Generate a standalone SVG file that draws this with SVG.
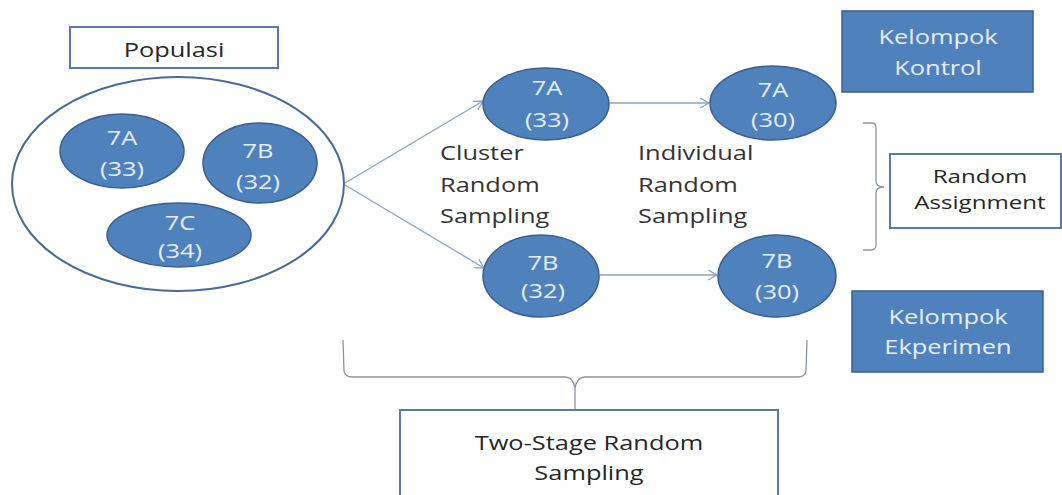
<svg xmlns="http://www.w3.org/2000/svg" width="1062" height="495" viewBox="0 0 1062 495">
<style>
  .t { font-family: "Open Sans", "Liberation Sans", sans-serif; font-size: 20px; text-anchor: middle; transform-box: fill-box; transform-origin: center; transform: scaleX(1.27); }
  .lbl { font-family: "Open Sans", "Liberation Sans", sans-serif; font-size: 20px; fill: #333333; transform-box: fill-box; transform-origin: left center; transform: scaleX(1.27); }
  .sm { font-size: 19px; }
  .dark { fill: #262626; }
  .light { fill: #e6eef8; }
  .ell { fill: #4f81bd; stroke: #3a5f8e; stroke-width: 1.5; }
  .bluebox { fill: #4f81bd; stroke: #3a5f8e; stroke-width: 1.5; }
  .whitebox { fill: #ffffff; stroke: #5a79a6; stroke-width: 2; }
  .conn { fill: none; stroke: #8ea2c4; stroke-width: 1.3; }
  .brace { fill: none; stroke: #8c93a3; stroke-width: 1.3; }
</style>
<defs>
  <marker id="arr" markerWidth="12" markerHeight="12" refX="10" refY="6" orient="auto" markerUnits="userSpaceOnUse">
    <path d="M1,1 L10,6 L1,11" fill="none" stroke="#8ea2c4" stroke-width="1.3"/>
  </marker>
</defs>
<rect width="1062" height="495" fill="#ffffff"/>

<g id="connectors">
  <line class="conn" x1="345" y1="183" x2="483" y2="101" marker-end="url(#arr)"/>
  <line class="conn" x1="345" y1="185" x2="484" y2="268" marker-end="url(#arr)"/>
  <line class="conn" x1="609" y1="103" x2="709" y2="103" marker-end="url(#arr)"/>
  <line class="conn" x1="600" y1="275" x2="717" y2="275" marker-end="url(#arr)"/>
  <path class="brace" d="M863,123 L872,123 Q876,123 876,128 L876,181 Q876,187 884,187 Q876,187 876,193 L876,245 Q876,250 871,250 L863,250"/>
  <path class="brace" d="M343,340 L344,371 Q345,377 352,377 L565,377 Q573,377 575,388 L575,410 M575,388 Q577,377 585,377 L798,377 Q805,377 806,371 L807,340"/>
</g>

<g id="populasi-label">
  <rect class="whitebox" x="70" y="27" width="208" height="41"/>
  <text class="t dark" x="174" y="57">Populasi</text>
</g>

<g id="populasi">
  <ellipse cx="178" cy="184" rx="166" ry="107" fill="#ffffff" stroke="#4a6a96" stroke-width="2"/>
</g>

<g id="p7A">
  <ellipse class="ell" cx="122" cy="151" rx="62" ry="37"/>
  <text class="t light" x="122" y="145">7A</text>
  <text class="t light" x="122" y="176">(33)</text>
</g>
<g id="p7B">
  <ellipse class="ell" cx="260" cy="163" rx="57" ry="40"/>
  <text class="t light" x="258" y="158">7B</text>
  <text class="t light" x="258" y="189">(32)</text>
</g>
<g id="p7C">
  <ellipse class="ell" cx="179" cy="235" rx="72" ry="32"/>
  <text class="t light" x="180" y="230">7C</text>
  <text class="t light" x="180" y="258">(34)</text>
</g>

<g id="c7A">
  <ellipse class="ell" cx="546" cy="104" rx="63" ry="36"/>
  <text class="t light" x="547" y="95">7A</text>
  <text class="t light" x="547" y="127">(33)</text>
</g>
<g id="c7B">
  <ellipse class="ell" cx="541" cy="276" rx="58" ry="41"/>
  <text class="t light" x="543" y="270">7B</text>
  <text class="t light" x="543" y="298">(32)</text>
</g>
<g id="i7A">
  <ellipse class="ell" cx="773" cy="103" rx="63" ry="37"/>
  <text class="t light" x="773" y="97">7A</text>
  <text class="t light" x="773" y="127">(30)</text>
</g>
<g id="i7B">
  <ellipse class="ell" cx="777" cy="276" rx="59" ry="41"/>
  <text class="t light" x="777" y="268">7B</text>
  <text class="t light" x="777" y="299">(30)</text>
</g>

<g id="cluster-label">
  <text class="lbl" x="440" y="160">Cluster</text>
  <text class="lbl" x="440" y="192">Random</text>
  <text class="lbl" x="440" y="223">Sampling</text>
</g>
<g id="individual-label">
  <text class="lbl" x="638" y="160">Individual</text>
  <text class="lbl" x="638" y="192">Random</text>
  <text class="lbl" x="638" y="223">Sampling</text>
</g>

<g id="kontrol">
  <rect class="bluebox" x="842" y="11" width="191" height="81"/>
  <text class="t light" x="938" y="44">Kelompok</text>
  <text class="t light" x="938" y="75">Kontrol</text>
</g>
<g id="random-assignment">
  <rect class="whitebox" x="890" y="154" width="171" height="74"/>
  <text class="t dark sm" x="980" y="183">Random</text>
  <text class="t dark sm" x="980" y="209">Assignment</text>
</g>
<g id="eksperimen">
  <rect class="bluebox" x="852" y="291" width="191" height="81"/>
  <text class="t light" x="948" y="324">Kelompok</text>
  <text class="t light" x="948" y="354">Ekperimen</text>
</g>
<g id="two-stage">
  <rect class="whitebox" x="400" y="410" width="378" height="95"/>
  <text class="t dark" x="589" y="450">Two-Stage Random</text>
  <text class="t dark" x="589" y="480">Sampling</text>
</g>
</svg>
